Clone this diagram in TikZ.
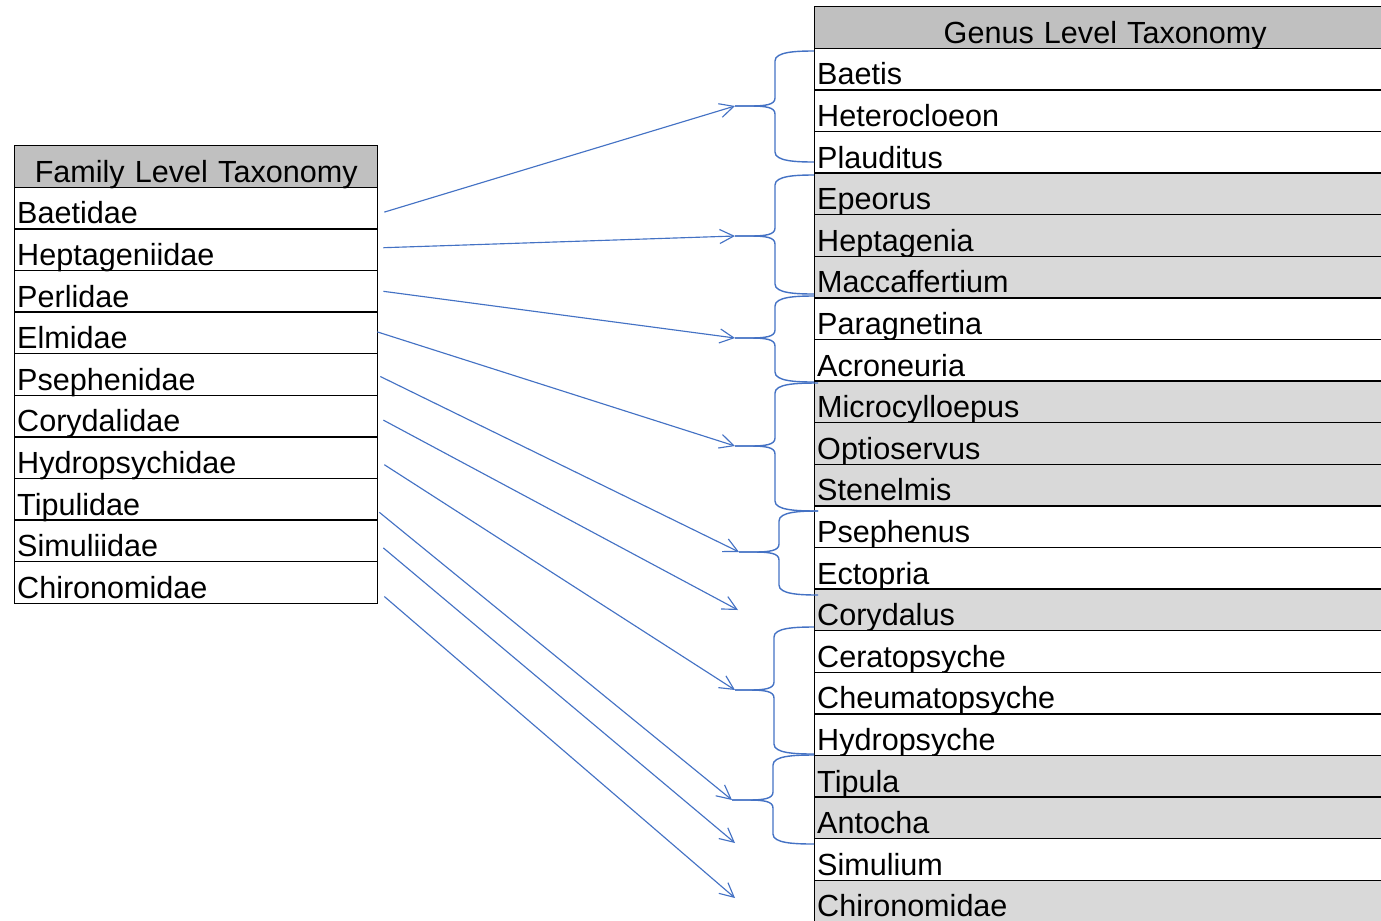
\documentclass[tikz,border=0pt]{standalone}
\usepackage{fontspec}
\setmainfont{Liberation Sans}
\usetikzlibrary{arrows.meta}
\usetikzlibrary{calc}

\definecolor{linkblue}{HTML}{4472C4}
\definecolor{headgray}{HTML}{C0C0C0}
\definecolor{rowgray}{HTML}{D9D9D9}

\tikzset{
  cell/.style={draw=black, line width=0.8pt, rectangle, anchor=north west,
    inner xsep=0.05cm, inner ysep=0pt, minimum height=0.832cm,
    text height=0.68cm, text depth=0.05cm,
    font=\fontsize{17.4}{20}\selectfont, align=left},
  famcell/.style={cell, text width=7.16cm},
  gencell/.style={cell, text width=11.52cm},
  headcell/.style={align=center, fill=headgray},
  linkarrow/.style={linkblue, line width=0.65pt, -{Straight Barb[length=8pt,width=8pt]}},
  genbrace/.style={linkblue, line width=0.8pt},
}

\begin{document}
\begin{tikzpicture}[x=0.02cm,y=-0.02cm]
            \useasboundingbox (0,0) rectangle (1381,920);
            \clip (0,0) rectangle (1381,920);
            % family table
            \node[famcell,headcell] (famhead) at (14,145) {Family Level Taxonomy};
            \foreach \fam [count=\i] in {Baetidae,Heptageniidae,Perlidae,Elmidae,Psephenidae,Corydalidae,Hydropsychidae,Tipulidae,Simuliidae,Chironomidae}
                \node[famcell] (fam\i) at (14,{145+41.6*\i}) {\fam};
            % genus table
            \node[gencell,headcell] (genhead) at (814,6) {Genus Level Taxonomy};
            \foreach \gen/\shade [count=\i] in {Baetis/white,Heterocloeon/white,Plauditus/white,Epeorus/rowgray,Heptagenia/rowgray,Maccaffertium/rowgray,Paragnetina/white,Acroneuria/white,Microcylloepus/rowgray,Optioservus/rowgray,Stenelmis/rowgray,Psephenus/white,Ectopria/white,Corydalus/rowgray,Ceratopsyche/white,Cheumatopsyche/white,Hydropsyche/white,Tipula/rowgray,Antocha/rowgray,Simulium/white,Chironomidae/rowgray}
                \node[gencell,fill=\shade] (gen\i) at (814,{6+41.6*\i}) {\gen};
            % braces
            \foreach \yt/\ym/\yb/\xs/\xt/\xe [count=\k] in {51/106/162/775/735/814,175/236/294/775/735/814,296/338/382/775/735/814,383/446/511/775/735/818,511/552/595/779/739/818,627/690/754/774/735/814,755/800/844/773/732/814}{
                \coordinate (tip\k) at (\xt,\ym);
                \draw[genbrace] (\xe,\yt) .. controls (\xs+20,\yt) and (\xs,\yt+1) .. (\xs,\yt+10) -- (\xs,\ym-8) .. controls (\xs,\ym-1) and (\xs-10,\ym) .. (\xs-26,\ym) -- (tip\k);
                \draw[genbrace] (tip\k) -- (\xs-26,\ym) .. controls (\xs-10,\ym) and (\xs,\ym+1) .. (\xs,\ym+8) -- (\xs,\yb-10) .. controls (\xs,\yb-1) and (\xs+20,\yb) .. (\xe,\yb);
            }
            \coordinate (toCorydalus) at (738,610);
            \coordinate (toSimulium) at (735,843);
            \coordinate (toChironomidae) at (735,898);
            % arrows
            \foreach \f/\t/\dx/\dy in {1/tip1/6/4,2/tip2/5/-2,3/tip3/5/0,4/tip4/-1/-1,5/tip5/2/2,6/toCorydalus/5/4,7/tip6/6/7,8/tip7/1/13,9/toSimulium/5/7,10/toChironomidae/6/14}
                \draw[linkarrow] ($(fam\f.east)+(\dx,\dy)$) -- (\t);
        \end{tikzpicture}
\end{document}
